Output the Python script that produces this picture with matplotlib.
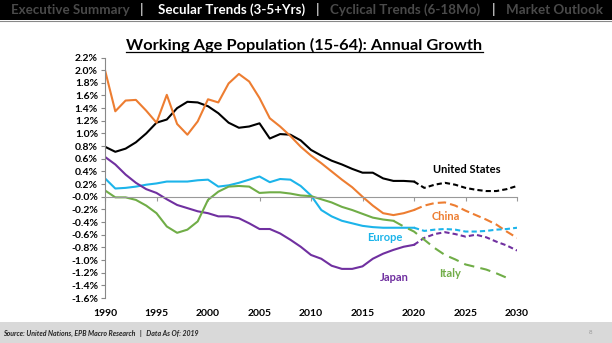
import numpy as np
import matplotlib
matplotlib.use("Agg")
import matplotlib.pyplot as plt
from matplotlib.lines import Line2D

plt.rcParams['font.family'] = ['Lato', 'DejaVu Sans']

# historical data 1990-2020 (solid), projections (dashed)
years_hist = list(range(1990, 2021))
years_proj = list(range(2020, 2031))

us_hist = [0.79, 0.71, 0.76, 0.86, 1.00, 1.17, 1.22, 1.40, 1.50, 1.49, 1.43,
           1.32, 1.17, 1.09, 1.11, 1.16, 0.92, 0.99, 0.98, 0.89, 0.74,
           0.65, 0.57, 0.51, 0.44, 0.38, 0.38, 0.29, 0.25, 0.25, 0.24]
us_proj = [0.24, 0.14, 0.19, 0.22, 0.19, 0.14, 0.11, 0.09, 0.09, 0.12, 0.17]

china_hist = [2.00, 1.35, 1.52, 1.53, 1.36, 1.17, 1.61, 1.15, 0.98, 1.19, 1.54,
              1.49, 1.79, 1.94, 1.82, 1.56, 1.24, 1.11, 0.96, 0.79, 0.65,
              0.53, 0.40, 0.27, 0.15, 0.00, -0.14, -0.26, -0.29, -0.26, -0.21]
china_proj = [-0.21, -0.14, -0.10, -0.09, -0.14, -0.22, -0.29, -0.36, -0.44, -0.55, -0.65]

europe_hist = [0.29, 0.13, 0.14, 0.16, 0.19, 0.21, 0.24, 0.24, 0.24, 0.26, 0.27,
               0.16, 0.18, 0.22, 0.27, 0.32, 0.23, 0.28, 0.27, 0.17, 0.02,
               -0.21, -0.31, -0.38, -0.42, -0.46, -0.48, -0.49, -0.49, -0.49, -0.49]
europe_proj = [-0.49, -0.54, -0.52, -0.51, -0.52, -0.55, -0.55, -0.54, -0.52, -0.51, -0.49]

japan_hist = [0.63, 0.51, 0.35, 0.22, 0.12, 0.06, -0.04, -0.13, -0.18, -0.23, -0.26,
              -0.31, -0.31, -0.34, -0.42, -0.51, -0.51, -0.58, -0.68, -0.79, -0.92,
              -0.98, -1.09, -1.14, -1.14, -1.10, -0.98, -0.90, -0.84, -0.79, -0.76]
japan_proj = [-0.76, -0.65, -0.59, -0.56, -0.59, -0.63, -0.60, -0.64, -0.71, -0.77, -0.85]

italy_years_hist = list(range(1990, 2019))
italy_hist = [0.10, -0.01, -0.01, -0.05, -0.14, -0.26, -0.47, -0.57, -0.52, -0.39, -0.05,
              0.08, 0.16, 0.17, 0.16, 0.06, 0.07, 0.07, 0.05, 0.02, 0.01,
              -0.04, -0.09, -0.16, -0.21, -0.27, -0.33, -0.36, -0.38]
italy_years_proj = list(range(2018, 2030))
italy_proj = [-0.38, -0.47, -0.55, -0.68, -0.81, -0.92, -0.99, -1.07, -1.11, -1.15, -1.21, -1.28]

yticks = np.arange(-1.6, 2.21, 0.2)
xticks = list(range(1990, 2031, 5))

c_us = "#000000"
c_china = "#ED7D31"
c_europe = "#1CB4EA"
c_japan = "#7030A0"
c_italy = "#70AD47"

fig = plt.figure(figsize=(6.12, 3.43), dpi=100)
fig.patch.set_facecolor("white")

# header bar
fig.patches.append(plt.Rectangle((0, 1 - 20 / 343), 1, 20 / 343, transform=fig.transFigure,
                                 facecolor="black", edgecolor="none"))
fig.add_artist(Line2D([0, 1], [1 - 21 / 343] * 2, transform=fig.transFigure, color="#888888", lw=0.8))
hy = 1 - 10 / 343
hs = 9.6
fig.text(0.018, hy, "Executive Summary", color="#4a4a4a", fontsize=hs, fontweight="bold", va="center")
fig.text(0.229, hy, "|", color="#cccccc", fontsize=hs, fontweight="bold", va="center")
fig.text(0.258, hy, "Secular Trends (3-5+Yrs)", color="white", fontsize=hs, fontweight="bold", va="center")
fig.text(0.516, hy, "|", color="#cccccc", fontsize=hs, fontweight="bold", va="center")
fig.text(0.539, hy, "Cyclical Trends (6-18Mo)", color="#4a4a4a", fontsize=hs, fontweight="bold", va="center")
fig.text(0.804, hy, "|", color="#cccccc", fontsize=hs, fontweight="bold", va="center")
fig.text(0.827, hy, "Market Outlook", color="#4a4a4a", fontsize=hs, fontweight="bold", va="center")

# footer
fig.patches.append(plt.Rectangle((0, 0), 1, 21 / 343, transform=fig.transFigure,
                                 facecolor="#D9D9D9", edgecolor="none"))
fig.text(0.005, 10 / 343, "Source: United Nations, EPB Macro Research   |   Data As Of: 2019",
         fontsize=5, fontstyle="italic", fontweight="bold", va="center", color="#222222")
fig.text(0.962, 10 / 343, "8", fontsize=4.5, va="center", color="#999999")

# title
title = fig.text(304.5 / 612, 1 - 45 / 343, "Working Age Population (15-64): Annual Growth",
                 fontsize=11.8, fontweight="bold", ha="center", va="center")
fig.canvas.draw()
bb = title.get_window_extent().transformed(fig.transFigure.inverted())
fig.add_artist(Line2D([bb.x0, bb.x1], [bb.y0 + 0.003] * 2, transform=fig.transFigure, color="black", lw=0.9))

ax = fig.add_axes([105 / 612, 45 / 343, 412 / 612, 240.5 / 343])
lw = 1.5
ax.plot(years_hist, us_hist, color=c_us, lw=lw)
ax.plot(years_proj, us_proj, color=c_us, lw=lw, dashes=(2.5, 1.5))
ax.plot(years_hist, china_hist, color=c_china, lw=lw)
ax.plot(years_proj, china_proj, color=c_china, lw=lw, dashes=(4, 2))
ax.plot(years_hist, europe_hist, color=c_europe, lw=lw)
ax.plot(years_proj, europe_proj, color=c_europe, lw=lw, dashes=(2.5, 1.5))
ax.plot(years_hist, japan_hist, color=c_japan, lw=lw)
ax.plot(years_proj, japan_proj, color=c_japan, lw=lw, dashes=(2.5, 1.5))
ax.plot(italy_years_hist, italy_hist, color=c_italy, lw=lw)
ax.plot(italy_years_proj, italy_proj, color=c_italy, lw=lw, dashes=(5, 3))

ax.set_xlim(1990, 2030)
ax.set_ylim(-1.6, 2.2)
ax.set_yticks(yticks)
ax.set_yticklabels([f"{v:.1f}%" for v in yticks], fontsize=7.5, fontweight="bold")
ax.set_xticks(xticks)
ax.spines['top'].set_visible(False)
ax.spines['right'].set_visible(False)
ax.spines['left'].set_color("#888888")
ax.spines['bottom'].set_position(('data', 0))
ax.spines['bottom'].set_color("#999999")
ax.tick_params(axis='y', direction='out', length=3, color="#888888", pad=2)
ax.tick_params(axis='x', direction='out', length=3, color="#999999", labelbottom=False)

sec = ax.secondary_xaxis(0)
sec.set_xticks(xticks)
sec.set_xticklabels([str(x) for x in xticks], fontsize=7.5, fontweight="bold")
sec.spines['bottom'].set_visible(False)
sec.tick_params(length=0, pad=8)

# series labels
ax.text(2025.1, 0.43, "United States", color=c_us, fontsize=8, fontweight="bold", ha="center", va="center")
ax.text(2023.1, -0.32, "China", color=c_china, fontsize=8, fontweight="bold", ha="center", va="center")
ax.text(2017.2, -0.65, "Europe", color=c_europe, fontsize=8, fontweight="bold", ha="center", va="center")
ax.text(2018.1, -1.27, "Japan", color=c_japan, fontsize=8, fontweight="bold", ha="center", va="center")
ax.text(2023.5, -1.22, "Italy", color=c_italy, fontsize=8, fontweight="bold", ha="center", va="center")

fig.savefig("out.png", dpi=100)
